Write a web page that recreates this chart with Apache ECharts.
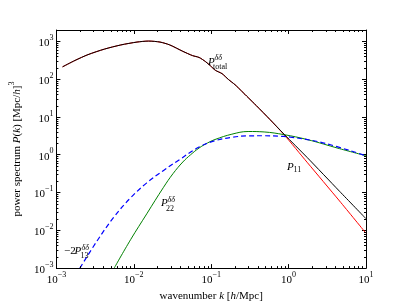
<!DOCTYPE html>
<html><head><meta charset="utf-8">
<script src="https://cdn.jsdelivr.net/npm/echarts@6/dist/echarts.min.js"></script>
<style>html,body{margin:0;padding:0;background:#fff}#c{width:407px;height:307px}</style>
</head><body><div id="c"></div>
<script>
// ---- data ----
const kMain   = [0.0012,0.00174,0.00256,0.00417,0.00679,0.0110,0.0155,0.0218,0.0292,0.0430,0.0574,0.0698,0.0847,0.0979,0.113,0.138,0.167,0.203,0.247,0.300,0.382,0.574,0.873,1.73,4.55,10];
const pLinear = [212,313,446,624,804,959,1019,959,804,545,420,375,290,225,172,140,98,71.4,48.4,32.6,20.0,8.5,3.40,0.635,0.0598,0.00838];
const pTotal  = [212,313,446,624,804,959,1019,959,804,545,420,375,290,225,172,140,98,71.4,48.4,32.6,20.0,8.6,3.50,0.853,0.108,0.0203];
const kP22    = [0.00558,0.00908,0.0147,0.0240,0.0321,0.0430,0.0542,0.0698,0.0889,0.112,0.185,0.300,0.483,0.873,1.73,4.55,10];
const pP22    = [0.001,0.00564,0.0273,0.134,0.316,0.643,1.00,1.51,2.03,2.53,3.50,4.12,4.01,3.40,2.53,1.45,0.94];
const kP13    = [0.00201,0.00343,0.00558,0.00908,0.0147,0.0240,0.0390,0.0698,0.112,0.185,0.300,0.483,0.793,1.06,2.77,10];
const pP13    = [0.001,0.00564,0.0229,0.0723,0.180,0.378,0.745,1.60,2.35,2.89,3.16,3.18,3.07,2.94,2.07,0.94];
const xDecades = [-3,-2,-1,0];
const yDecades = [-3,-2,-1,0,1,2,3];
const mantissas = [2,3,4,5,6,7,8,9];
const xMin = 0.001, xMax = 10, yMin = 0.001, yMax = 2000;

const zip = (a,b) => a.map((v,i)=>[v,b[i]]);
const SERIF = '"Liberation Serif","DejaVu Serif",serif';

const xMinor = [], yMinor = [];
xDecades.forEach(e => mantissas.forEach(m => xMinor.push([m*Math.pow(10,e), 1])));
yDecades.forEach(e => mantissas.forEach(m => { const v = m*Math.pow(10,e); if (v < yMax) yMinor.push([1, v]); }));

function powLabel(v) {
  const l = Math.log10(v), e = Math.round(l);
  if (Math.abs(l - e) > 0.01) return '';
  return '{b|10}{s|' + (e < 0 ? '\u2212' + (-e) : e) + '}';
}
const tickRich = {
  b: {fontFamily: SERIF, fontSize: 11, color: '#000', lineHeight: 15, verticalAlign: 'bottom'},
  s: {fontFamily: SERIF, fontSize: 8, color: '#000', lineHeight: 15, verticalAlign: 'top'}
};
const axisLine = {show: true, lineStyle: {color: '#000', width: 1}};
const axisTick = {show: true, inside: true, length: 4, lineStyle: {color: '#000', width: 1}};

function tickSeries(data, isX) {
  return {
    type: 'custom', data: data, silent: true, z: 5, clip: false,
    xAxisIndex: 0, yAxisIndex: 0,
    renderItem: (params, api) => {
      const cs = params.coordSys;
      const c = api.coord([api.value(0), api.value(1)]);
      const L = 2;
      if (isX) {
        const px = Math.round(c[0]) + 0.5;
        return {type: 'group', children: [
          {type: 'line', shape: {x1: px, y1: cs.y + cs.height, x2: px, y2: cs.y + cs.height - L}, style: {stroke: '#000', lineWidth: 1}},
          {type: 'line', shape: {x1: px, y1: cs.y, x2: px, y2: cs.y + L}, style: {stroke: '#000', lineWidth: 1}}
        ]};
      } else {
        const py = Math.round(c[1]) + 0.5;
        return {type: 'group', children: [
          {type: 'line', shape: {x1: cs.x, y1: py, x2: cs.x + L, y2: py}, style: {stroke: '#000', lineWidth: 1}},
          {type: 'line', shape: {x1: cs.x + cs.width, y1: py, x2: cs.x + cs.width - L, y2: py}, style: {stroke: '#000', lineWidth: 1}}
        ]};
      }
    }
  };
}

function txt(x, y, text, size, italic, align) {
  return {type: 'text', x: x, y: y, z: 10, style: {text: text, fontFamily: SERIF, fontSize: size,
    fontStyle: italic ? 'italic' : 'normal', fill: '#000', align: align || 'left', verticalAlign: 'middle'}};
}

const chart = echarts.init(document.getElementById('c'), null, {renderer: 'canvas'});
chart.setOption({
  animation: false,
  backgroundColor: '#fff',
  grid: {left: 51, right: 41, top: 30, bottom: 31},
  xAxis: [{
    type: 'log', logBase: 10, min: xMin, max: xMax, position: 'bottom', splitNumber: 5,
    axisLine: axisLine, axisTick: axisTick, splitLine: {show: false},
    axisLabel: {formatter: powLabel, rich: tickRich, margin: 3, showMinLabel: true, showMaxLabel: true},
    name: '{r|wavenumber }{i|k}{r| [}{i|h}{r|/Mpc]}', nameLocation: 'middle', nameGap: 15,
    nameTextStyle: {rich: {
      r: {fontFamily: SERIF, fontSize: 11, color: '#000'},
      i: {fontFamily: SERIF, fontSize: 11, fontStyle: 'italic', color: '#000'}}}
  }, {
    type: 'log', logBase: 10, min: xMin, max: xMax, position: 'top', splitNumber: 5,
    axisLine: axisLine, axisTick: axisTick, splitLine: {show: false}, axisLabel: {show: false}
  }],
  yAxis: [{
    type: 'log', logBase: 10, min: yMin, max: yMax, position: 'left', splitNumber: 7, interval: 1,
    axisLine: axisLine, axisTick: axisTick, splitLine: {show: false},
    axisLabel: {formatter: powLabel, rich: tickRich, margin: 3},
    name: '{r|power spectrum }{i|P}{r|(}{i|k}{r|) [Mpc/}{i|h}{r|]}{s|3}', nameLocation: 'middle', nameGap: 31,
    nameTextStyle: {rich: {
      r: {fontFamily: SERIF, fontSize: 11, color: '#000', lineHeight: 15, verticalAlign: 'bottom'},
      i: {fontFamily: SERIF, fontSize: 11, fontStyle: 'italic', color: '#000', lineHeight: 15, verticalAlign: 'bottom'},
      s: {fontFamily: SERIF, fontSize: 8, color: '#000', lineHeight: 15, verticalAlign: 'top'}}}
  }, {
    type: 'log', logBase: 10, min: yMin, max: yMax, position: 'right', splitNumber: 7, interval: 1,
    axisLine: axisLine, axisTick: axisTick, splitLine: {show: false}, axisLabel: {show: false}
  }],
  series: [
    {type: 'line', name: 'P11', data: zip(kMain, pLinear), showSymbol: false, smooth: 0.25,
     lineStyle: {color: '#ff0000', width: 1}, z: 2},
    {type: 'line', name: 'total', data: zip(kMain, pTotal), showSymbol: false, smooth: 0.25,
     lineStyle: {color: '#000000', width: 1}, z: 3},
    {type: 'line', name: 'P22', data: zip(kP22, pP22), showSymbol: false, smooth: 0.4,
     lineStyle: {color: '#008000', width: 1}, z: 2},
    {type: 'line', name: 'P13', data: zip(kP13, pP13), showSymbol: false, smooth: 0.4,
     lineStyle: {color: '#0000ff', width: 1.2, type: [5, 3]}, z: 2},
    tickSeries(xMinor, true),
    tickSeries(yMinor, false)
  ],
  graphic: [
    txt(208, 62, 'P', 11, true), txt(214.5, 58, '\u03b4\u03b4', 8, true), txt(213, 66.5, 'total', 8, false),
    txt(287, 167, 'P', 11, true), txt(293.5, 170, '11', 8, false),
    txt(161, 203, 'P', 11, true), txt(167.5, 199.5, '\u03b4\u03b4', 8, true), txt(166, 208.5, '22', 8, false),
    txt(64, 251.5, '\u22122', 11, false), txt(74.5, 251.5, 'P', 11, true), txt(81.5, 247.5, '\u03b4\u03b4', 8, true), txt(80.5, 255.5, '13', 8, false)
  ]
});
</script></body></html>
